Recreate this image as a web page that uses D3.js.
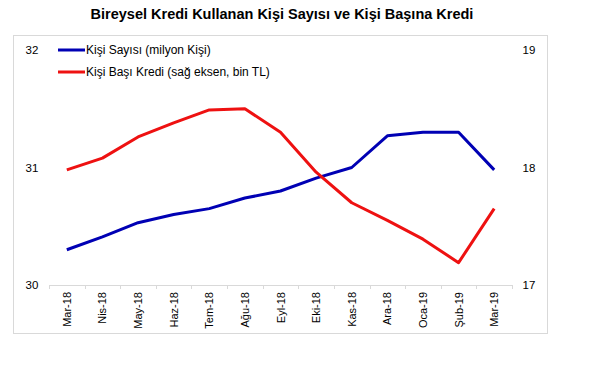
<!DOCTYPE html>
<html><head><meta charset="utf-8">
<script src="https://cdn.jsdelivr.net/npm/d3@7"></script>
<style>body{margin:0;background:#fff;font-family:"Liberation Sans",Arial,sans-serif;}</style>
</head><body>
<svg id="c" width="600" height="365"></svg>
<script>
const categories = ["Mar-18","Nis-18","May-18","Haz-18","Tem-18","Ağu-18","Eyl-18","Eki-18","Kas-18","Ara-18","Oca-19","Şub-19","Mar-19"];
const kisiSayisi = [30.30,30.41,30.53,30.60,30.65,30.74,30.80,30.91,31.00,31.27,31.30,31.30,30.98];
const kisiBasiKredi = [17.98,18.08,18.26,18.38,18.49,18.50,18.30,17.96,17.70,17.55,17.39,17.19,17.65];
const leftTicks = [30,31,32];
const rightTicks = [17,18,19];
const seriesNames = ["Kişi Sayısı (milyon Kişi)","Kişi Başı Kredi (sağ eksen, bin TL)"];
const title = "Bireysel Kredi Kullanan Kişi Sayısı ve Kişi Başına Kredi";

const svg = d3.select("#c");
const font = '"Liberation Sans",Arial,sans-serif';

svg.append("text").attr("x",282).attr("y",19).attr("text-anchor","middle")
  .attr("font-family",font).attr("font-weight","bold").attr("font-size",14.5).attr("fill","#000").text(title);

svg.append("rect").attr("x",13.5).attr("y",35.5).attr("width",534).attr("height",298)
  .attr("fill","none").attr("stroke","#d9d9d9");

const x = d3.scaleBand().domain(categories).range([49,512]);
const yL = d3.scaleLinear().domain([30,32]).range([285,50]);
const yR = d3.scaleLinear().domain([17,19]).range([285,50]);

svg.append("g").selectAll("text").data(leftTicks).join("text")
  .attr("x",32).attr("y",d=>yL(d)+4).attr("text-anchor","middle")
  .attr("font-family",font).attr("font-size",11.5).attr("fill","#000").text(d=>d);
svg.append("g").selectAll("text").data(rightTicks).join("text")
  .attr("x",529).attr("y",d=>yR(d)+4).attr("text-anchor","middle")
  .attr("font-family",font).attr("font-size",11.5).attr("fill","#000").text(d=>d);

const xAxis = svg.append("g").attr("transform","translate(0,285)");
xAxis.append("line").attr("x1",49).attr("x2",512).attr("y1",0.5).attr("y2",0.5).attr("stroke","#d9d9d9");
const bounds = categories.map(c=>x(c)).concat([x.range()[1]]);
xAxis.selectAll("line.t").data(bounds).join("line").attr("class","t")
  .attr("x1",d=>Math.round(d)+0.5).attr("x2",d=>Math.round(d)+0.5).attr("y1",0).attr("y2",4).attr("stroke","#d9d9d9");
xAxis.selectAll("text").data(categories).join("text")
  .attr("transform",d=>`translate(${x(d)+x.bandwidth()/2+4},7) rotate(-90)`)
  .attr("text-anchor","end").attr("font-family",font).attr("font-size",11).attr("fill","#000").text(d=>d);

const cx = d=>x(d)+x.bandwidth()/2;
const lineL = d3.line().x((d,i)=>cx(categories[i])).y(d=>yL(d));
const lineR = d3.line().x((d,i)=>cx(categories[i])).y(d=>yR(d));

svg.append("path").attr("d",lineL(kisiSayisi)).attr("fill","none").attr("stroke","#0000b4").attr("stroke-width",3).attr("stroke-linejoin","round");
svg.append("path").attr("d",lineR(kisiBasiKredi)).attr("fill","none").attr("stroke","#ee1111").attr("stroke-width",3).attr("stroke-linejoin","round");

const colors = ["#0000b4","#ee1111"];
const lg = svg.append("g");
seriesNames.forEach((n,i)=>{
  const yy = 50 + i*22;
  lg.append("line").attr("x1",58).attr("x2",85).attr("y1",yy).attr("y2",yy).attr("stroke",colors[i]).attr("stroke-width",3);
  lg.append("text").attr("x",86).attr("y",yy+4).attr("font-family",font).attr("font-size",12).attr("fill","#000").text(n);
});
</script>
</body></html>
